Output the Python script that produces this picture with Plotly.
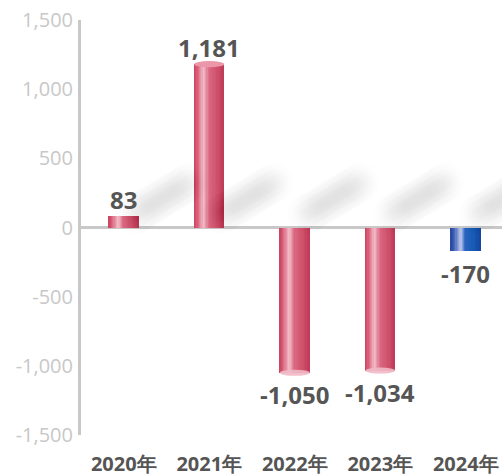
import plotly.graph_objects as go
import numpy as np

categories = ["2020年", "2021年", "2022年", "2023年", "2024年"]
values = [83, 1181, -1050, -1034, -170]
labels = ["83", "1,181", "-1,050", "-1,034", "-170"]
tick_vals = [-1500, -1000, -500, 0, 500, 1000, 1500]
tick_text = ["-1,500", "-1,000", "-500", "0", "500", "1,000", "1,500"]

# gradient stops (position across bar width, colour) for red and blue cylinders
red_stops = [(0.0, (200, 66, 94)), (0.12, (218, 96, 122)), (0.32, (242, 190, 202)),
             (0.5, (220, 104, 130)), (0.8, (206, 80, 106)), (1.0, (190, 58, 86))]
blue_stops = [(0.0, (40, 70, 160)), (0.12, (60, 95, 180)), (0.34, (185, 198, 235)),
              (0.5, (40, 100, 190)), (0.8, (20, 90, 180)), (1.0, (20, 70, 160))]
is_blue = [False, False, False, False, True]


def interp(stops, t):
    for (p0, c0), (p1, c1) in zip(stops[:-1], stops[1:]):
        if p0 <= t <= p1:
            f = (t - p0) / (p1 - p0) if p1 > p0 else 0
            return "rgb(%d,%d,%d)" % tuple(int(round(a + (b - a) * f)) for a, b in zip(c0, c1))
    return "rgb(%d,%d,%d)" % stops[-1][1]


fig = go.Figure()
x_idx = list(range(len(categories)))

# soft diagonal floor shadows behind the cylinders (decorative)
ts = np.linspace(0, 1, 30)
fade = np.sin(np.pi * ts) ** 0.5
for i in x_idx:
    sx = i + 0.05 + ts * 0.8
    sy = 60 + ts * 300
    for size, a in [(40, 0.0035), (28, 0.004), (16, 0.0055)]:
        cols = ["rgba(70,70,70,%.4f)" % (a * f) for f in fade]
        fig.add_trace(go.Scatter(x=sx, y=sy, mode="markers",
                                 marker=dict(size=size, color=cols, line=dict(width=0)),
                                 hoverinfo="skip", showlegend=False))

bar_w = 0.35
n = 24
for k in range(n):
    t = (k + 0.5) / n
    cols = [interp(blue_stops if b else red_stops, t) for b in is_blue]
    fig.add_trace(go.Bar(x=x_idx, y=values, width=bar_w / n + 0.002,
                         offset=-bar_w / 2 + k * bar_w / n,
                         marker=dict(color=cols, line=dict(width=0)),
                         hoverinfo="skip", showlegend=False))

# cap ellipses at bar ends
shapes = []
ell_h = 22  # data units (~3px)
for i, v, b in zip(x_idx, values, is_blue):
    if b:
        continue
    col = "rgba(236,150,170,1)" if v > 0 else "rgba(240,185,198,0.9)"
    shapes.append(dict(type="circle", xref="x", yref="y", x0=i - bar_w / 2, x1=i + bar_w / 2,
                       y0=v - ell_h, y1=v + ell_h, fillcolor=col, line=dict(width=0), layer="above"))

# zero line
fig.add_hline(y=0, line=dict(color="#c8c8c8", width=3), layer="below")

annotations = []
for i, v, lab in zip(x_idx, values, labels):
    annotations.append(dict(x=i, y=v, text="<b>%s</b>" % lab, showarrow=False,
                            yshift=(17 if v > 0 else -22), xref="x", yref="y",
                            font=dict(family="Open Sans", size=24, color="#555555")))

fig.update_layout(
    width=502, height=476,
    margin=dict(l=81, r=0, t=20, b=41, autoexpand=False),
    paper_bgcolor="white", plot_bgcolor="white",
    bargap=0, barmode="overlay",
    shapes=shapes, annotations=annotations,
    xaxis=dict(range=[-0.5, 4.424], tickvals=x_idx, automargin=False,
               ticktext=["<b>%s</b>" % c for c in categories],
               tickfont=dict(family="Open Sans", size=20, color="#555555"),
               showgrid=False, zeroline=False, showline=False, ticks="",
               ticklabelstandoff=15, ticklabeloverflow="allow"),
    yaxis=dict(range=[-1500, 1500], tickvals=tick_vals, ticktext=tick_text, automargin=False,
               tickfont=dict(family="Open Sans", size=20, color="#c8c8c8"),
               showgrid=False, zeroline=False, showline=True, linecolor="#c8c8c8",
               linewidth=3, ticks="", ticklabelstandoff=1, ticklabeloverflow="allow"),
    font=dict(family="Open Sans"),
)

fig.write_html("out.html", config={"displayModeBar": False},
               post_script="document.body.style.margin='0';")
